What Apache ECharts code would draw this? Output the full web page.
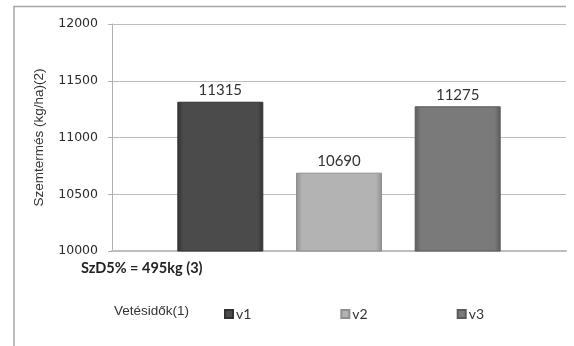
<!DOCTYPE html>
<html>
<head>
<meta charset="utf-8">
<script src="https://cdn.jsdelivr.net/npm/echarts@6/dist/echarts.min.js"></script>
<style>
  html, body { margin: 0; padding: 0; background: #ffffff; }
  #chart { width: 574px; height: 346px; }
</style>
</head>
<body>
<div id="chart"></div>
<script>
// Sowing dates and their grain yields (kg/ha)
const seriesNames = ['v1', 'v2', 'v3'];
const yieldValues = [11315, 10690, 11275];
const yTicks = [10000, 10500, 11000, 11500, 12000];

const baseColors = ['#4b4b4b', '#b3b3b3', '#7a7a7a'];
const edgeColors = ['#333333', '#8f8f8f', '#5a5a5a'];

function barFill(i) {
  return new echarts.graphic.LinearGradient(0, 0, 1, 0, [
    { offset: 0, color: edgeColors[i] },
    { offset: 0.07, color: baseColors[i] },
    { offset: 0.93, color: baseColors[i] },
    { offset: 1, color: edgeColors[i] }
  ]);
}

const chart = echarts.init(document.getElementById('chart'), null, { renderer: 'canvas' });

const series = seriesNames.map((name, i) => ({
  name: name,
  type: 'bar',
  data: [yieldValues[i]],
  barWidth: 86,
  barGap: '38%',
  itemStyle: { color: barFill(i), borderColor: edgeColors[i], borderWidth: 1 },
  label: {
    show: true,
    position: 'top',
    distance: 4,
    color: '#333333',
    fontFamily: 'Lato',
    fontSize: 15
  }
}));

chart.setOption({
  animation: false,
  backgroundColor: '#ffffff',
  grid: { left: 112, top: 24, right: 8, bottom: 95, containLabel: false },
  xAxis: {
    type: 'category',
    data: [''],
    axisLine: { show: true, lineStyle: { color: '#bdbdbd', width: 2 } },
    axisTick: { show: false },
    axisLabel: { show: false }
  },
  yAxis: {
    type: 'value',
    min: yTicks[0],
    max: yTicks[yTicks.length - 1],
    interval: 500,
    name: 'Szemtermés (kg/ha)(2)',
    nameLocation: 'middle',
    nameGap: 66,
    nameTextStyle: { fontFamily: 'Liberation Sans', fontSize: 13.5, color: '#333333' },
    axisLine: { show: true, lineStyle: { color: '#b0b0b0' } },
    axisTick: { show: true, length: 4, lineStyle: { color: '#b0b0b0' } },
    axisLabel: {
      fontFamily: 'DejaVu Sans',
      fontSize: 12.5,
      color: '#2a2a2a',
      margin: 14,
      formatter: (v) => String(v)
    },
    splitLine: { show: true, lineStyle: { color: '#bcbcbc' } }
  },
  legend: {
    data: seriesNames,
    left: 219,
    top: 302,
    itemWidth: 8,
    itemHeight: 8,
    itemGap: 89,
    icon: 'rect',
    textStyle: { fontFamily: 'Lato', fontSize: 14, color: '#333333', padding: [0, 0, 0, -2] }
  },
  graphic: [
    {
      type: 'polyline',
      shape: { points: [[14, 346], [14, 6.5], [566, 6.5]] },
      style: { stroke: '#a6a6a6', lineWidth: 1.5, fill: null },
      silent: true
    },
    {
      type: 'text',
      left: 81,
      top: 261,
      style: {
        text: 'SzD5% = 495kg (3)',
        fontFamily: 'Lato',
        fontWeight: 'bold',
        fontSize: 14.5,
        fill: '#222222'
      }
    },
    {
      type: 'text',
      left: 114,
      top: 304,
      style: {
        text: 'Vetésidők(1)',
        fontFamily: 'Liberation Sans',
        fontSize: 13.5,
        fill: '#333333'
      }
    }
  ],
  series: series
});
</script>
</body>
</html>
